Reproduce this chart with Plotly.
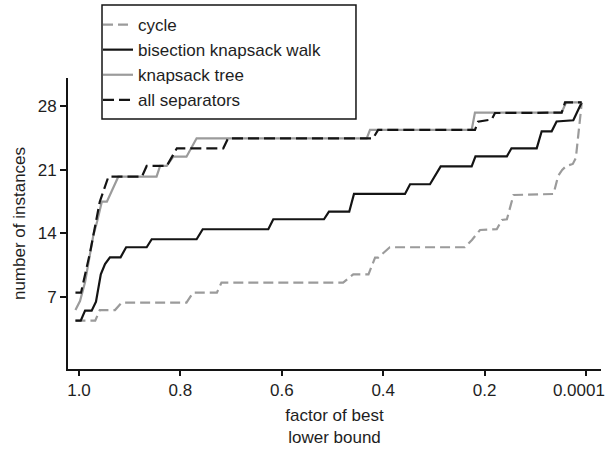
import plotly.graph_objects as go

# Fraction of the best lower bound (x) against the number of instances solved (y)
cycle_x = [1.007, 0.968, 0.959, 0.929, 0.916, 0.788, 0.775, 0.728, 0.719, 0.479,
           0.459, 0.429, 0.416, 0.410, 0.387, 0.239, 0.225, 0.209, 0.176, 0.166,
           0.156, 0.143, 0.064, 0.055, 0.047, 0.039, 0.026, 0.020, 0.0085]
cycle_y = [4.40, 4.40, 5.57, 5.57, 6.38, 6.38, 7.48, 7.48, 8.58, 8.58,
           9.50, 9.50, 11.33, 11.33, 12.47, 12.47, 13.27, 14.37, 14.45, 15.47,
           15.55, 18.22, 18.33, 20.31, 20.97, 21.41, 21.63, 22.29, 28.30]

bisection_x = [1.007, 0.9966, 0.988, 0.975, 0.9665, 0.957, 0.9487, 0.939, 0.918, 0.907,
               0.8665, 0.8566, 0.768, 0.756, 0.6266, 0.6168, 0.5168, 0.507, 0.467, 0.4576,
               0.357, 0.347, 0.3077, 0.2866, 0.2255, 0.218, 0.156, 0.147, 0.0972, 0.0874,
               0.0677, 0.058, 0.025, 0.0085]
bisection_y = [4.40, 4.40, 5.50, 5.50, 6.49, 9.50, 10.63, 11.37, 11.37, 12.47,
               12.47, 13.35, 13.35, 14.45, 14.45, 15.55, 15.55, 16.38, 16.38, 18.33,
               18.33, 19.40, 19.40, 21.37, 21.37, 22.47, 22.47, 23.35, 23.35, 25.22,
               25.22, 26.30, 26.43, 28.39]

tree_x = [1.007, 0.998, 0.988, 0.972, 0.9645, 0.955, 0.945, 0.9225, 0.847, 0.840,
          0.827, 0.814, 0.788, 0.768, 0.4325, 0.426, 0.2255, 0.219, 0.048, 0.0394, 0.0085]
tree_y = [5.57, 6.56, 8.65, 13.71, 15.25, 17.48, 17.48, 20.23, 20.23, 21.41,
          21.41, 22.43, 22.43, 24.45, 24.45, 25.37, 25.37, 27.27, 27.27, 28.39, 28.39]

sep_x = [1.007, 0.996, 0.978, 0.959, 0.942, 0.876, 0.8665, 0.827, 0.807, 0.7154,
         0.706, 0.420, 0.410, 0.219, 0.213, 0.186, 0.1795, 0.048, 0.0414, 0.0085]
sep_y = [7.48, 7.48, 11.95, 17.48, 20.23, 20.23, 21.41, 21.41, 23.35, 23.35,
         24.45, 24.45, 25.37, 25.37, 26.28, 26.52, 27.23, 27.27, 28.39, 28.39]

x_tick_vals = [1.0, 0.8, 0.6, 0.4, 0.2, 0.0]
# the last label is padded on the right so it stays inside the page edge
x_tick_text = ["1.0", "0.8", "0.6", "0.4", "0.2", "0.0001\u00a0\u00a0\u00a0"]
y_tick_vals = [7, 14, 21, 28]

GRAY = "#9b9b9b"
BLACK = "#141414"
TEXT = "#1e1e1e"
FONT = "Liberation Sans, Arial, sans-serif"

series = [
    ("cycle", cycle_x, cycle_y, GRAY, "10px,5px"),
    ("bisection knapsack walk", bisection_x, bisection_y, BLACK, "solid"),
    ("knapsack tree", tree_x, tree_y, GRAY, "solid"),
    ("all separators", sep_x, sep_y, BLACK, "11px,5px"),
]

fig = go.Figure()
for name, xs, ys, color, dash in series:
    fig.add_trace(go.Scatter(
        x=xs, y=ys, mode="lines", name=name,
        line=dict(color=color, width=2.2, dash=dash),
    ))

axis_common = dict(
    showline=True, linecolor=BLACK, linewidth=2, showgrid=False, zeroline=False,
    ticks="outside", tickcolor=BLACK, tickwidth=2,
    tickfont=dict(family=FONT, size=17, color=TEXT),
    mirror=False, automargin=False,
)

# Legend frame, a bit wider than the entries themselves
fig.add_shape(
    type="rect", xref="paper", yref="paper",
    x0=0.0638, x1=0.5403, y0=0.8591, y1=1.2509,
    line=dict(color=BLACK, width=1.5), fillcolor="white", layer="above",
)

fig.update_layout(
    width=605, height=454,
    margin=dict(l=68, r=4, t=78, b=85),
    paper_bgcolor="white", plot_bgcolor="white",
    font=dict(family=FONT, size=17, color=TEXT),
    xaxis=dict(
        range=[1.0217, -0.0296], tickvals=x_tick_vals, ticktext=x_tick_text,
        ticklen=5, ticklabeloverflow="allow",
        title=dict(text="factor of best<br>lower bound", font=dict(family=FONT, size=17),
                   standoff=10),
        **axis_common,
    ),
    yaxis=dict(
        range=[-0.913, 31.08], tickvals=y_tick_vals, ticklen=6,
        title=dict(text="number of instances", font=dict(family=FONT, size=17),
                   standoff=8),
        **axis_common,
    ),
    legend=dict(
        x=0.0563, y=1.244, xanchor="left", yanchor="top",
        borderwidth=0, bgcolor="rgba(0,0,0,0)",
        font=dict(family=FONT, size=17, color=TEXT),
        itemwidth=30,
    ),
    showlegend=True,
)

fig.write_html("out.html")
